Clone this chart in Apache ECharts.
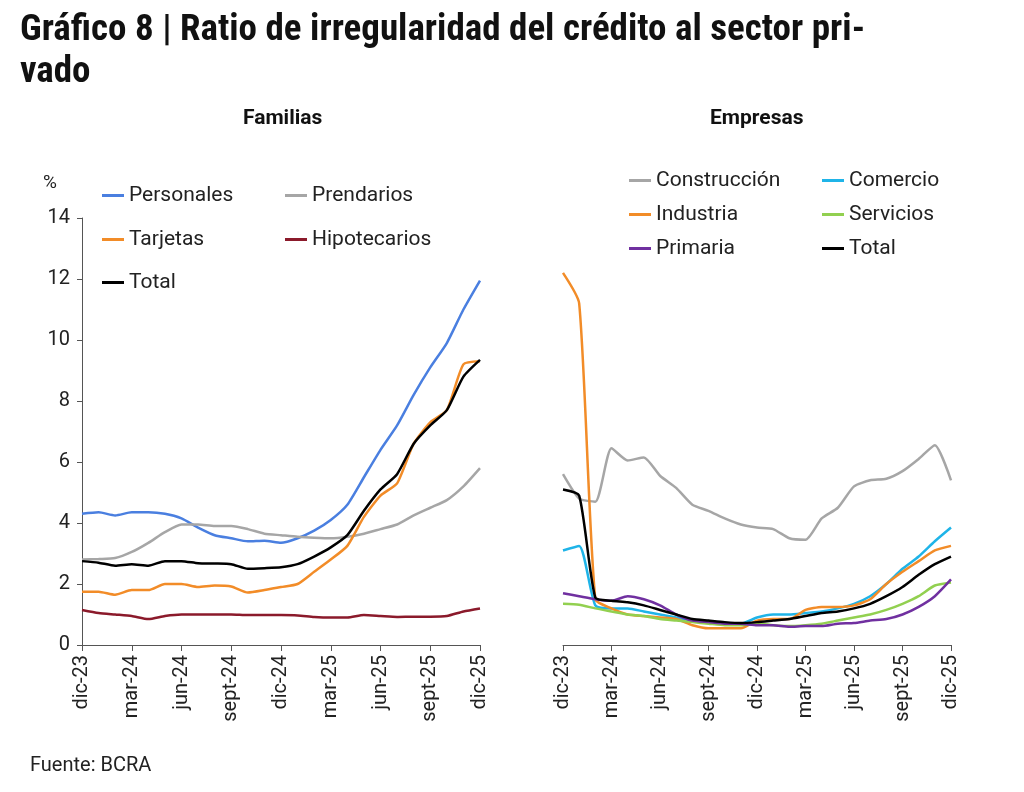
<!DOCTYPE html>
<html><head><meta charset="utf-8">
<script src="https://cdn.jsdelivr.net/npm/echarts@6/dist/echarts.min.js"></script>
<style>html,body{margin:0;background:#fff}#chart{width:1024px;height:792px}</style>
</head><body><div id="chart"></div>
<script>
var months = ['dic-23','ene-24','feb-24','mar-24','abr-24','may-24','jun-24','jul-24','ago-24','sept-24','oct-24','nov-24','dic-24',
  'ene-25','feb-25','mar-25','abr-25','may-25','jun-25','jul-25','ago-25','sept-25','oct-25','nov-25','dic-25'];
// Familias
var personales = [4.3,4.35,4.25,4.35,4.35,4.3,4.15,3.85,3.6,3.5,3.4,3.42,3.35,3.5,3.75,4.1,4.6,5.5,6.4,7.2,8.2,9.1,9.9,11.0,11.95];
var prendarios = [2.8,2.82,2.85,3.05,3.35,3.7,3.95,3.95,3.9,3.9,3.8,3.65,3.6,3.55,3.52,3.5,3.55,3.65,3.8,3.95,4.25,4.5,4.75,5.2,5.8];
var tarjetas = [1.75,1.75,1.65,1.8,1.8,2.0,2.0,1.9,1.95,1.92,1.72,1.8,1.9,2.0,2.4,2.8,3.25,4.2,4.9,5.3,6.6,7.3,7.7,9.2,9.3];
var hipotecarios = [1.15,1.05,1.0,0.95,0.85,0.95,1.0,1.0,1.0,1.0,0.98,0.98,0.98,0.97,0.92,0.9,0.9,0.98,0.95,0.92,0.93,0.93,0.95,1.1,1.2];
var totalFam = [2.75,2.7,2.6,2.65,2.6,2.75,2.75,2.68,2.67,2.65,2.5,2.52,2.55,2.65,2.9,3.2,3.6,4.4,5.1,5.6,6.6,7.2,7.7,8.8,9.35];
// Empresas
var construccion = [5.6,4.8,4.7,6.45,6.05,6.15,5.55,5.15,4.6,4.4,4.15,3.95,3.85,3.8,3.5,3.45,4.15,4.5,5.2,5.4,5.45,5.7,6.1,6.55,5.4];
var comercio = [3.1,3.25,1.3,1.2,1.2,1.1,1.0,0.9,0.8,0.75,0.7,0.7,0.9,1.0,1.0,1.05,1.1,1.2,1.35,1.6,2.0,2.5,2.9,3.4,3.85];
var industria = [12.2,11.2,1.5,1.2,1.0,0.95,0.9,0.85,0.65,0.55,0.55,0.55,0.8,0.85,0.85,1.15,1.25,1.25,1.3,1.5,2.0,2.4,2.75,3.1,3.25];
var servicios = [1.35,1.32,1.2,1.1,1.0,0.95,0.85,0.8,0.75,0.7,0.65,0.65,0.7,0.65,0.62,0.65,0.7,0.8,0.9,1.0,1.15,1.35,1.6,1.95,2.05];
var primaria = [1.7,1.6,1.5,1.45,1.6,1.5,1.3,1.0,0.8,0.75,0.7,0.7,0.65,0.65,0.6,0.62,0.62,0.7,0.72,0.8,0.85,1.0,1.25,1.6,2.15];
var totalEmp = [5.1,4.9,1.55,1.45,1.4,1.3,1.15,1.0,0.85,0.8,0.75,0.72,0.75,0.8,0.85,0.95,1.05,1.1,1.2,1.35,1.6,1.9,2.3,2.65,2.9];

var font = 'Roboto, "Noto Sans", sans-serif';
var txt = '#222';

// name, data, color, grid, legend x, legend y
var lines = [
  ['Personales', personales, '#4a7fe0', 0, 97, 193],
  ['Prendarios', prendarios, '#a6a6a6', 0, 280, 193],
  ['Tarjetas', tarjetas, '#f28c28', 0, 97, 237],
  ['Hipotecarios', hipotecarios, '#8b1a2b', 0, 280, 237],
  ['Total', totalFam, '#000000', 0, 97, 280],
  ['Construcción', construccion, '#a6a6a6', 1, 624, 178],
  ['Comercio', comercio, '#1fb4e8', 1, 817, 178],
  ['Industria', industria, '#f28c28', 1, 624, 212],
  ['Servicios', servicios, '#92d050', 1, 817, 212],
  ['Primaria', primaria, '#7030a0', 1, 624, 246],
  ['Total ', totalEmp, '#000000', 1, 817, 246]
];

function xAxis(i){
  return {type:'category', gridIndex:i, data:months, boundaryGap:false,
    axisLine:{lineStyle:{color:'#555'}}, axisTick:{interval:2, length:6, lineStyle:{color:'#555'}},
    axisLabel:{interval:2, rotate:90, fontSize:20, color:txt, fontFamily:font, margin:10}};
}
function yAxis(i){
  return {type:'value', gridIndex:i, min:0, max:14, interval:2, splitLine:{show:false},
    axisLine:{show:i===0, lineStyle:{color:'#555'}}, axisTick:{show:i===0, lineStyle:{color:'#555'}},
    axisLabel:{show:i===0, fontSize:20, color:txt, fontFamily:font, margin:12}};
}

var option = {
  backgroundColor:'#fff',
  animation:false,
  grid:[{left:82, right:544, top:218, bottom:147},{left:563, right:73, top:218, bottom:147}],
  xAxis:[xAxis(0), xAxis(1)],
  yAxis:[yAxis(0), yAxis(1)],
  legend: lines.map(function(l){
    return {data:[l[0]], left:l[4], top:l[5]-13, itemWidth:22, itemHeight:3, icon:'rect', itemGap:6,
      textStyle:{fontSize:21, color:txt, fontFamily:font}};
  }),
  series: lines.map(function(l){
    return {name:l[0], type:'line', xAxisIndex:l[3], yAxisIndex:l[3], data:l[1], showSymbol:false,
      smooth:0.2, lineStyle:{width:2.5, color:l[2]}, itemStyle:{color:l[2]}};
  }),
  graphic:[
    {type:'text', left:20, top:10, style:{text:'Gráfico 8 | Ratio de irregularidad del crédito al sector pri-\nvado',
      font:'bold 37px "Liberation Sans Narrow", "Roboto Condensed", "Roboto", sans-serif', fill:'#111', lineHeight:42}},
    {type:'text', left:243, top:108, style:{text:'Familias', font:'bold 21px '+font, fill:'#111'}},
    {type:'text', left:710, top:108, style:{text:'Empresas', font:'bold 21px '+font, fill:'#111'}},
    {type:'text', left:43, top:174, style:{text:'%', font:'19px '+font, fill:txt}},
    {type:'text', left:30, top:756, style:{text:'Fuente: BCRA', font:'20px '+font, fill:txt}}
  ]
};
echarts.init(document.getElementById('chart')).setOption(option);
</script></body></html>
